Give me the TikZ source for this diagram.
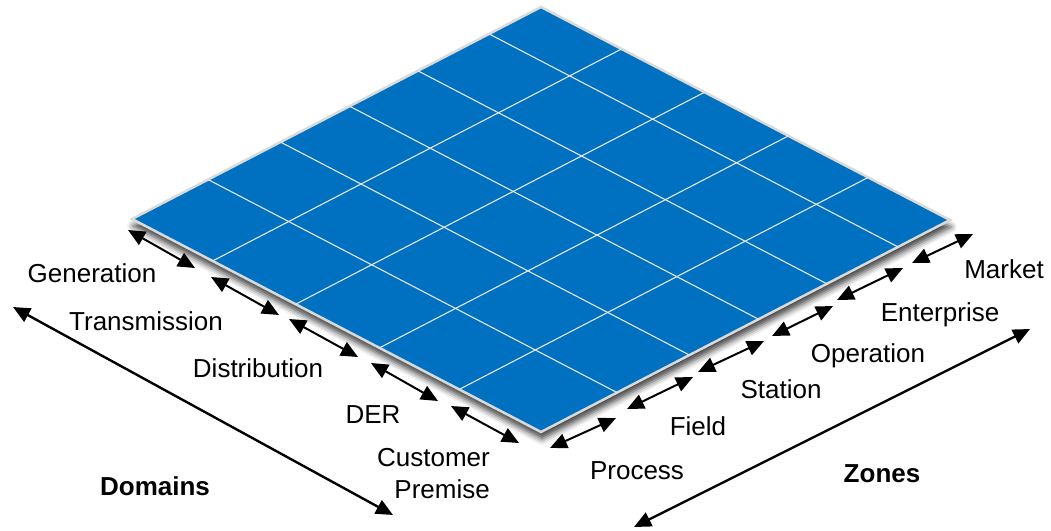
\documentclass[tikz,border=0pt]{standalone}
\usepackage{fontspec}
\setmainfont{Liberation Sans}
\usetikzlibrary{arrows.meta,calc,shadows.blur}
\definecolor{planeblue}{RGB}{0,112,192}
\definecolor{rimgray}{RGB}{218,218,218}
\definecolor{gridwhite}{RGB}{228,231,236}

\begin{document}
\begin{tikzpicture}[
    x=1pt, y=-1pt,
    font=\fontsize{26}{32}\selectfont,
    plane/.style={fill=planeblue, draw=rimgray, line width=2.5pt,
        blur shadow={shadow xshift=1pt, shadow yshift=-7pt, shadow blur radius=6pt, shadow opacity=75}},
    gridline/.style={draw=gridwhite, line width=1.1pt},
    segarrow/.style={{Triangle[length=17pt,width=15pt]}-{Triangle[length=17pt,width=15pt]},
        draw=black, fill opacity=1, draw opacity=1, line width=2pt},
    axisarrow/.style={segarrow, line width=2.4pt},
    lbl/.style={anchor=base, inner sep=0pt},
    axislbl/.style={lbl, font=\fontsize{26}{32}\selectfont\bfseries},
]
\useasboundingbox (0,0) rectangle (1051,530);

% Plane corners
\coordinate (Top) at (541,7);
\coordinate (Left) at (132,219);
\coordinate (Right) at (950,220);
\coordinate (Bottom) at (541,432);

% Blue plane
\begin{scope}
\filldraw[plane] (Top) -- (Right) -- (Bottom) -- (Left) -- cycle;
\end{scope}

% Zone grid lines
\draw[gridline] ($(Top)!0.127!(Left)$) -- ($(Right)!0.127!(Bottom)$);
\draw[gridline] ($(Top)!0.301!(Left)$) -- ($(Right)!0.301!(Bottom)$);
\draw[gridline] ($(Top)!0.468!(Left)$) -- ($(Right)!0.468!(Bottom)$);
\draw[gridline] ($(Top)!0.637!(Left)$) -- ($(Right)!0.637!(Bottom)$);
\draw[gridline] ($(Top)!0.814!(Left)$) -- ($(Right)!0.814!(Bottom)$);

% Domain grid lines
\draw[gridline] ($(Top)!0.197!(Right)$) -- ($(Left)!0.197!(Bottom)$);
\draw[gridline] ($(Top)!0.400!(Right)$) -- ($(Left)!0.400!(Bottom)$);
\draw[gridline] ($(Top)!0.605!(Right)$) -- ($(Left)!0.605!(Bottom)$);
\draw[gridline] ($(Top)!0.800!(Right)$) -- ($(Left)!0.800!(Bottom)$);

% Domain segment ends
\coordinate (gen-a) at (128,230); \coordinate (gen-b) at (195,268);
\coordinate (tra-a) at (211,277); \coordinate (tra-b) at (279,315);
\coordinate (dis-a) at (289,319); \coordinate (dis-b) at (358,357);
\coordinate (der-a) at (371,363); \coordinate (der-b) at (438,401);
\coordinate (cus-a) at (451,406); \coordinate (cus-b) at (519,443);

% Zone segment ends
\coordinate (pro-a) at (550,448); \coordinate (pro-b) at (616,418);
\coordinate (fie-a) at (627,409); \coordinate (fie-b) at (693,377);
\coordinate (sta-a) at (698,372); \coordinate (sta-b) at (764,341);
\coordinate (ope-a) at (772,336); \coordinate (ope-b) at (833,306);
\coordinate (ent-a) at (837,300); \coordinate (ent-b) at (903,268);
\coordinate (mar-a) at (912,263); \coordinate (mar-b) at (973,234);

% Axis ends
\coordinate (dom-a) at (13,307); \coordinate (dom-b) at (393,515);
\coordinate (zon-a) at (634,527); \coordinate (zon-b) at (1030,329);

% Segment arrows
\draw[segarrow] (gen-a) -- (gen-b);
\draw[segarrow] (tra-a) -- (tra-b);
\draw[segarrow] (dis-a) -- (dis-b);
\draw[segarrow] (der-a) -- (der-b);
\draw[segarrow] (cus-a) -- (cus-b);
\draw[segarrow] (pro-a) -- (pro-b);
\draw[segarrow] (fie-a) -- (fie-b);
\draw[segarrow] (sta-a) -- (sta-b);
\draw[segarrow] (ope-a) -- (ope-b);
\draw[segarrow] (ent-a) -- (ent-b);
\draw[segarrow] (mar-a) -- (mar-b);

% Axis arrows
\draw[axisarrow] (dom-a) -- (dom-b);
\draw[axisarrow] (zon-a) -- (zon-b);

% Domain labels
\node[lbl] (generation) at (92,282) {Generation};
\node[lbl] (transmission) at (146,330) {Transmission};
\node[lbl] (distribution) at (258,377) {Distribution};
\node[lbl] (der) at (373,423) {DER};
\node[lbl, anchor=east, align=right] (customer) at (490,474) {Customer\\Premise};

% Zone labels
\node[lbl] (process) at (637,479) {Process};
\node[lbl] (field) at (698,435) {Field};
\node[lbl] (station) at (781,398) {Station};
\node[lbl] (operation) at (868,362) {Operation};
\node[lbl] (enterprise) at (940,321) {Enterprise};
\node[lbl] (market) at (1004,278) {Market};

% Axis labels
\node[axislbl] (domains) at (155,495) {Domains};
\node[axislbl] (zones) at (882,482) {Zones};

\end{tikzpicture}
\end{document}
